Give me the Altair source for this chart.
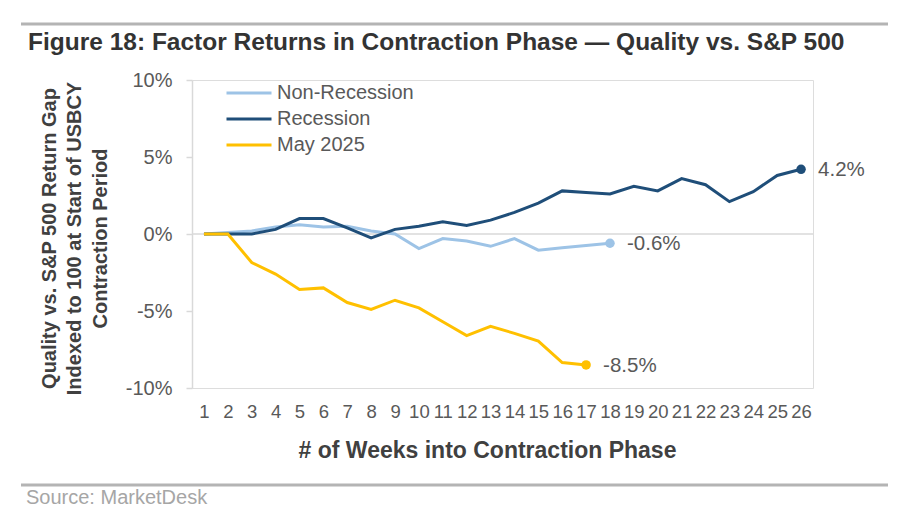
import altair as alt
import pandas as pd

FONT = "Liberation Sans, Arial, sans-serif"

weeks = list(range(1, 27))
non_recession = [0.0, 0.1, 0.2, 0.45, 0.6, 0.45, 0.5, 0.2, 0.0, -0.95, -0.3, -0.45,
                 -0.8, -0.3, -1.05, -0.9, -0.75, -0.6]
recession = [0.0, 0.0, 0.0, 0.3, 1.0, 1.0, 0.4, -0.25, 0.3, 0.5, 0.8, 0.55, 0.9,
             1.4, 2.0, 2.8, 2.7, 2.6, 3.1, 2.8, 3.6, 3.2, 2.1, 2.75, 3.8, 4.2]
may_2025 = [0.0, 0.0, -1.85, -2.6, -3.6, -3.5, -4.45, -4.9, -4.3, -4.8, -5.7, -6.6,
            -6.0, -6.45, -6.95, -8.35, -8.5]

series_names = ["Non-Recession", "Recession", "May 2025"]
series_colors = ["#9DC3E6", "#1F4E79", "#FFC000"]
series_values = [non_recession, recession, may_2025]
end_labels = ["-0.6%", "4.2%", "-8.5%"]
y_ticks = [-10, -5, 0, 5, 10]

title_text = "Figure 18: Factor Returns in Contraction Phase \u2014 Quality vs. S&P 500"
y_title = ["Quality vs. S&P 500 Return Gap", "Indexed to 100 at Start of USBCY", "Contraction Period"]
x_title = "# of Weeks into Contraction Phase"
source_text = "Source: MarketDesk"

rows = []
ends = []
for name, vals, lab in zip(series_names, series_values, end_labels):
    for w, v in zip(weeks, vals):
        rows.append({"week": w, "value": v, "series": name})
    ends.append({"week": weeks[len(vals) - 1], "value": vals[-1], "series": name, "label": lab})
df = pd.DataFrame(rows)
df_end = pd.DataFrame(ends)

x_axis = alt.Axis(
    values=weeks, format="d", title=x_title, domain=False, ticks=False, grid=False,
    labelOverlap=False, labelPadding=14, labelFontSize=18.5, labelColor="#595959",
    labelFont=FONT, labelFlush=False,
    titleFont=FONT, titleFontSize=23, titleFontWeight="bold", titleColor="#404040",
    titleX=295, titleY=62, titleBaseline="middle", titleAlign="center",
)
x_scale = alt.Scale(domain=[0.5, 26.5], nice=False, zero=False)
y_axis = alt.Axis(
    values=y_ticks, labelExpr="datum.value + '%'", grid=False,
    domainColor="#D9D9D9", domainWidth=1.5, tickColor="#D9D9D9", tickSize=6, tickWidth=1.5,
    labelPadding=14, labelFontSize=20, labelColor="#595959", labelFont=FONT,
    title=y_title, titleFont=FONT, titleFontSize=20, titleFontWeight="bold",
    titleColor="#404040", titleAngle=270, titleX=-143, titleY=158,
    titleBaseline="middle", titleAlign="center", titleLineHeight=25.5,
)
y_scale = alt.Scale(domain=[-10, 10], nice=False)

x_enc = alt.X("week:Q", scale=x_scale, axis=x_axis)
y_enc = alt.Y("value:Q", scale=y_scale, axis=y_axis)
color_scale = alt.Scale(domain=series_names, range=series_colors)
color_enc = alt.Color(
    "series:N",
    scale=color_scale,
    legend=alt.Legend(
        orient="none", legendX=47, legendY=3, title=None, symbolType="M-4.5,0H4.5",
        symbolSize=100, symbolStrokeWidth=3, labelFontSize=20, labelColor="#595959",
        labelFont=FONT, rowPadding=6, labelOffset=18, padding=0,
    ),
)

zero = alt.Chart(pd.DataFrame({"z": [0]})).mark_rule(color="#D9D9D9", strokeWidth=1.5).encode(
    y=alt.Y("z:Q", scale=y_scale, axis=y_axis)
)

lines = alt.Chart(df).mark_line(strokeWidth=3).encode(x=x_enc, y=y_enc, color=color_enc)

dots = alt.Chart(df_end).mark_circle(size=90, opacity=1).encode(
    x=x_enc, y=y_enc,
    color=alt.Color("series:N", scale=color_scale, legend=None),
)
labels = alt.Chart(df_end).mark_text(
    align="left", baseline="middle", dx=17, dy=1, fontSize=20.5, font=FONT, color="#595959"
).encode(x=x_enc, y=y_enc, text="label:N")

top_rule = alt.Chart(pd.DataFrame({"a": [0]})).mark_rule(color="#B4B4B4", strokeWidth=3).encode(
    x=alt.value(-171), x2=alt.value(696), y=alt.value(-56)
)
bottom_rule = alt.Chart(pd.DataFrame({"a": [0]})).mark_rule(color="#B4B4B4", strokeWidth=3).encode(
    x=alt.value(-171), x2=alt.value(696), y=alt.value(405)
)
title = alt.Chart(pd.DataFrame({"t": [title_text]})).mark_text(
    align="left", baseline="alphabetic", fontSize=24.5, font=FONT, fontWeight="bold", color="#333333"
).encode(x=alt.value(-164), y=alt.value(-30), text="t:N")
source = alt.Chart(pd.DataFrame({"t": [source_text]})).mark_text(
    align="left", baseline="alphabetic", fontSize=20, font=FONT, color="#A6A6A6"
).encode(x=alt.value(-166), y=alt.value(424), text="t:N")

chart = alt.layer(zero, lines, dots, labels, top_rule, bottom_rule, title, source).properties(
    width=621,
    height=308,
    autosize=alt.AutoSizeParams(type="none"),
    padding={"left": 184, "top": 72, "right": 79, "bottom": 131},
).configure_view(stroke=None).configure_axis(labelOverlap=False).configure(background="white")

chart.save("out.html", embed_options={"renderer": "svg", "actions": False})
